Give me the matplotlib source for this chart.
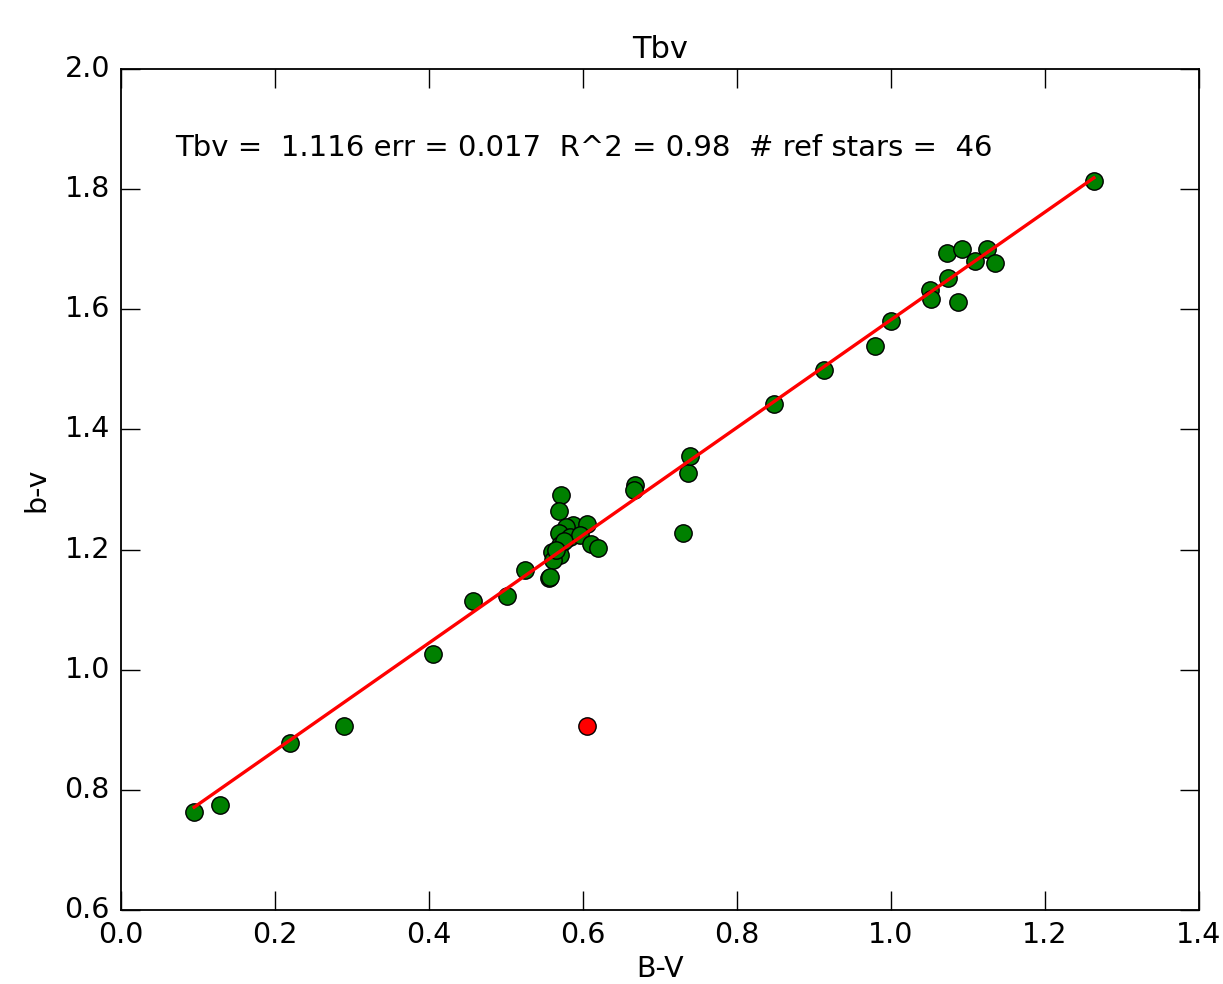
import numpy as np
import matplotlib
matplotlib.use("Agg")
import matplotlib.pyplot as plt

# Reference stars (green)
bv_cat = [0.095, 0.129, 0.219, 0.290, 0.405, 0.457, 0.501, 0.525, 0.556,
          0.571, 0.569, 0.587, 0.605, 0.578, 0.569, 0.583, 0.596, 0.611,
          0.620, 0.570, 0.560, 0.570, 0.561, 0.575, 0.565,
          0.668, 0.666, 0.730, 0.736, 0.739,
          0.848, 0.913, 0.979, 1.001,
          1.051, 1.052, 1.088, 1.075, 1.073, 1.093, 1.125, 1.109, 1.136,
          1.264, 0.557]
bv_inst = [0.763, 0.775, 0.878, 0.906, 1.026, 1.114, 1.123, 1.166, 1.153,
           1.291, 1.264, 1.241, 1.243, 1.238, 1.228, 1.221, 1.224, 1.209,
           1.203, 1.208, 1.196, 1.191, 1.183, 1.215, 1.200,
           1.307, 1.299, 1.228, 1.327, 1.356,
           1.442, 1.499, 1.539, 1.580,
           1.632, 1.617, 1.612, 1.652, 1.694, 1.700, 1.700, 1.680, 1.677,
           1.814, 1.154]

# Rejected star (red)
rej_cat = [0.605]
rej_inst = [0.906]

# Fit parameters shown in the annotation
tbv = 1.116
err = 0.017
r2 = 0.98
nref = 46
zp = 0.686

plt.style.use('classic')
fig = plt.figure(figsize=(12.23, 9.84), dpi=100)
ax = fig.add_axes([0.099, 0.0752, 0.881, 0.8548])

ax.plot(bv_cat, bv_inst, 'o', color='#008000', markeredgecolor='black',
        markersize=12.5, markeredgewidth=1.0, zorder=2)
ax.plot(rej_cat, rej_inst, 'o', color='red', markeredgecolor='black',
        markersize=12.5, markeredgewidth=1.0, zorder=2)

xs = np.array(sorted(bv_cat))
ax.plot(xs, xs / tbv + zp, '-', color='red', linewidth=2.4, zorder=3)

ax.set_xlim(0.0, 1.4)
ax.set_ylim(0.6, 2.0)
ax.set_xticks(np.arange(0.0, 1.41, 0.2))
ax.set_yticks(np.arange(0.6, 2.01, 0.2))
ax.tick_params(labelsize=20.5, length=14, width=1, direction='in',
               top=True, right=True, pad=8)
for s in ax.spines.values():
    s.set_linewidth(1.3)

ax.set_title('Tbv', fontsize=22, pad=8)
ax.set_xlabel('B-V', fontsize=20.5, labelpad=4)
ax.set_ylabel('b-v', fontsize=20.5, labelpad=10)

ax.text(0.07, 1.855,
        'Tbv =  %.3f err = %.3f  R^2 = %.2f  # ref stars =  %d' % (tbv, err, r2, nref),
        fontsize=21)

fig.savefig('out.png', dpi=100)
